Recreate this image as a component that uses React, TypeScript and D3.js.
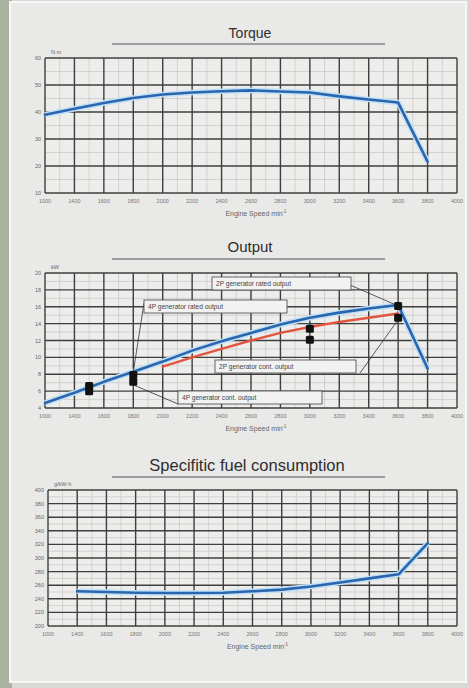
import React from "react";
import * as d3 from "d3";

const speedTicks = [1200, 1400, 1600, 1800, 2000, 2200, 2400, 2600, 2800, 3000, 3200, 3400, 3600, 3800, 4000];
const speedLabels = ["1000", "1400", "1600", "1800", "2000", "2200", "2400", "2600", "2800", "3000", "3200", "3400", "3600", "3800", "4000"];

const torqueSpeed = [1200, 1400, 1600, 1800, 2000, 2200, 2400, 2600, 2800, 3000, 3200, 3400, 3600, 3800];
const torqueValues = [39, 41.2, 43.3, 45.2, 46.5, 47.2, 47.7, 48, 47.6, 47.2, 45.8, 44.6, 43.5, 21.6];
const torqueTicks = [10, 20, 30, 40, 50, 60];

const outputSpeed = [1200, 1400, 1600, 1800, 2000, 2200, 2400, 2600, 2800, 3000, 3200, 3400, 3600, 3800];
const outputRated = [4.6, 5.8, 7.1, 8.3, 9.5, 10.8, 11.9, 12.9, 13.9, 14.7, 15.3, 15.8, 16.2, 8.7];
const contSpeed = [2000, 2200, 2400, 2600, 2800, 3000, 3200, 3400, 3600];
const outputCont = [8.9, 10.0, 11.0, 12.0, 12.9, 13.6, 14.2, 14.7, 15.2];
const outputTicks = [4, 6, 8, 10, 12, 14, 16, 18, 20];

const genSpeed = [1500, 1800, 3000, 3600];
const genRated = [6.6, 7.9, 13.4, 16.1];
const genCont = [6.0, 7.1, 12.1, 14.7];

const fuelSpeed = [1400, 1600, 1800, 2000, 2200, 2400, 2600, 2800, 3000, 3200, 3400, 3600, 3800];
const fuelValues = [251, 250, 249, 248.5, 248.5, 249, 251, 253.5, 258, 264, 270, 276, 322];
const fuelTicks = [200, 220, 240, 260, 280, 300, 320, 340, 360, 380, 400];

const FONT = "'Liberation Sans', Arial, sans-serif";
const GRID = "#3e3e3e";
const MINOR = "#c0c0c0";
const BLUE = "#2a65ad";
const RED = "#e2553f";

type Panel = {
  top: number;
  bottom: number;
  left: number;
  right: number;
  yDomain: [number, number];
  yTicks: number[];
  yMinorStep: number;
  unit: string;
};

function Grid({ p, x, y }: { p: Panel; x: d3.ScaleLinear<number, number>; y: d3.ScaleLinear<number, number> }) {
  const minorY = d3.range(p.yDomain[0], p.yDomain[1] + 0.001, p.yMinorStep).filter((v) => !p.yTicks.includes(v));
  const minorX = d3.range(1300, 4000, 200);
  return (
    <g>
      <rect x={p.left} y={p.top} width={p.right - p.left} height={p.bottom - p.top} fill="#ededec" />
      {minorX.map((v) => (
        <line key={"mx" + v} x1={x(v)} x2={x(v)} y1={p.top} y2={p.bottom} stroke={MINOR} strokeWidth={0.6} />
      ))}
      {minorY.map((v) => (
        <line key={"my" + v} x1={p.left} x2={p.right} y1={y(v)} y2={y(v)} stroke={MINOR} strokeWidth={0.6} />
      ))}
      {p.yTicks.map((v) => (
        <line key={"y" + v} x1={p.left} x2={p.right} y1={y(v)} y2={y(v)} stroke={GRID} strokeWidth={1.4} />
      ))}
      {speedTicks.map((v) => (
        <line key={"x" + v} x1={x(v)} x2={x(v)} y1={p.top} y2={p.bottom} stroke={GRID} strokeWidth={1.4} />
      ))}
      {p.yTicks.map((v) => (
        <text key={"yl" + v} x={p.left - 4} y={y(v) + 2} fontSize={5.5} fill="#666" textAnchor="end" fontFamily={FONT}>
          {v}
        </text>
      ))}
      <text x={p.left + 6} y={p.top - 4} fontSize={5.5} fill="#666" fontFamily={FONT}>
        {p.unit}
      </text>
      {speedTicks.map((v, i) => (
        <text key={"xl" + v} x={x(v)} y={p.bottom + 10} fontSize={5.5} fill="#777" textAnchor="middle" fontFamily={FONT}>
          {speedLabels[i]}
        </text>
      ))}
      <text x={(p.left + p.right) / 2 + 5} y={p.bottom + 23} fontSize={7} fill="#666" textAnchor="middle" fontFamily={FONT}>
        Engine Speed min<tspan dy={-3} fontSize={4.5}>-1</tspan>
      </text>
    </g>
  );
}

function Curve({ xs, ys, x, y, color, width, glow }: any) {
  const pts: [number, number][] = xs.map((s: number, i: number) => [x(s), y(ys[i])]);
  const path = d3.line()(pts) || "";
  return (
    <g>
      {glow && <path d={path} fill="none" stroke="#bfe0f7" strokeWidth={width + 3} strokeLinejoin="round" />}
      <path d={path} fill="none" stroke={color} strokeWidth={width} strokeLinejoin="round" strokeLinecap="round" />
    </g>
  );
}

function Title({ text, cx, y, size, lineY }: { text: string; cx: number; y: number; size: number; lineY: number }) {
  return (
    <g>
      <text x={cx} y={y} fontSize={size} fill="#2e2e2e" textAnchor="middle" fontFamily={FONT}>
        {text}
      </text>
      <line x1={112} x2={385} y1={lineY} y2={lineY} stroke="#555" strokeWidth={1.2} />
    </g>
  );
}

function Label({ x0, y0, w, text }: { x0: number; y0: number; w: number; text: string }) {
  return (
    <g>
      <rect x={x0} y={y0} width={w} height={13} fill="#f2f2f2" stroke="#555" strokeWidth={0.9} />
      <text x={x0 + 4} y={y0 + 9} fontSize={6.6} fill="#444" fontFamily={FONT}>
        {text}
      </text>
    </g>
  );
}

export default function App() {
  const W = 469;
  const H = 688;

  const tp: Panel = { top: 58, bottom: 193, left: 45, right: 457, yDomain: [10, 60], yTicks: torqueTicks, yMinorStep: 5, unit: "N·m" };
  const op: Panel = { top: 273, bottom: 408, left: 45, right: 457, yDomain: [4, 20], yTicks: outputTicks, yMinorStep: 1, unit: "kW" };
  const fp: Panel = { top: 490, bottom: 626, left: 48, right: 457, yDomain: [200, 400], yTicks: fuelTicks, yMinorStep: 10, unit: "g/kW·h" };

  const xT = d3.scaleLinear().domain([1200, 4000]).range([tp.left, tp.right]);
  const yT = d3.scaleLinear().domain(tp.yDomain).range([tp.bottom, tp.top]);
  const xO = d3.scaleLinear().domain([1200, 4000]).range([op.left, op.right]);
  const yO = d3.scaleLinear().domain(op.yDomain).range([op.bottom, op.top]);
  const xF = d3.scaleLinear().domain([1200, 4000]).range([fp.left, fp.right]);
  const yF = d3.scaleLinear().domain(fp.yDomain).range([fp.bottom, fp.top]);

  const sq = 8;

  return (
    <svg width={W} height={H} style={{ position: "absolute", left: 0, top: 0 }}>
      <rect x={0} y={0} width={W} height={H} fill="#d9d9d6" />
      <rect x={0} y={0} width={12} height={H} fill="#a9b19f" />
      <rect x={10} y={2} width={456} height={680} fill="#e9e9e8" stroke="#f7f7f7" strokeWidth={2} />

      <Title text="Torque" cx={250} y={38} size={14} lineY={44} />
      <Grid p={tp} x={xT} y={yT} />
      <Curve xs={torqueSpeed} ys={torqueValues} x={xT} y={yT} color={BLUE} width={2.6} glow />

      <Title text="Output" cx={250} y={252} size={15} lineY={259} />
      <Grid p={op} x={xO} y={yO} />
      <Curve xs={contSpeed} ys={outputCont} x={xO} y={yO} color={RED} width={2.4} />
      <Curve xs={outputSpeed} ys={outputRated} x={xO} y={yO} color={BLUE} width={2.6} glow />

      <line x1={350} y1={285} x2={xO(genSpeed[3])} y2={yO(genRated[3])} stroke="#333" strokeWidth={0.8} />
      <line x1={144} y1={303} x2={xO(genSpeed[1])} y2={yO(genRated[1]) - 3} stroke="#333" strokeWidth={0.8} />
      <line x1={360} y1={373} x2={xO(genSpeed[3])} y2={yO(genCont[3]) + 2} stroke="#333" strokeWidth={0.8} />
      <line x1={178} y1={404} x2={xO(genSpeed[1])} y2={yO(genCont[1]) + 3} stroke="#333" strokeWidth={0.8} />

      {genSpeed.map((s, i) => (
        <g key={"g" + s}>
          <rect x={xO(s) - sq / 2} y={yO(genRated[i]) - sq / 2} width={sq} height={sq} fill="#111" rx={1.5} />
          <rect x={xO(s) - sq / 2} y={yO(genCont[i]) - sq / 2} width={sq} height={sq} fill="#111" rx={1.5} />
        </g>
      ))}

      <Label x0={212} y0={277} w={139} text="2P generator rated output" />
      <Label x0={144} y0={300} w={143} text="4P generator rated output" />
      <Label x0={215} y0={360} w={141} text="2P generator cont. output" />
      <Label x0={178} y0={391} w={144} text="4P generator cont. output" />

      <Title text="Specifitic fuel consumption" cx={247} y={471} size={16.5} lineY={477} />
      <Grid p={fp} x={xF} y={yF} />
      <Curve xs={fuelSpeed} ys={fuelValues} x={xF} y={yF} color={BLUE} width={2.6} glow />
    </svg>
  );
}
